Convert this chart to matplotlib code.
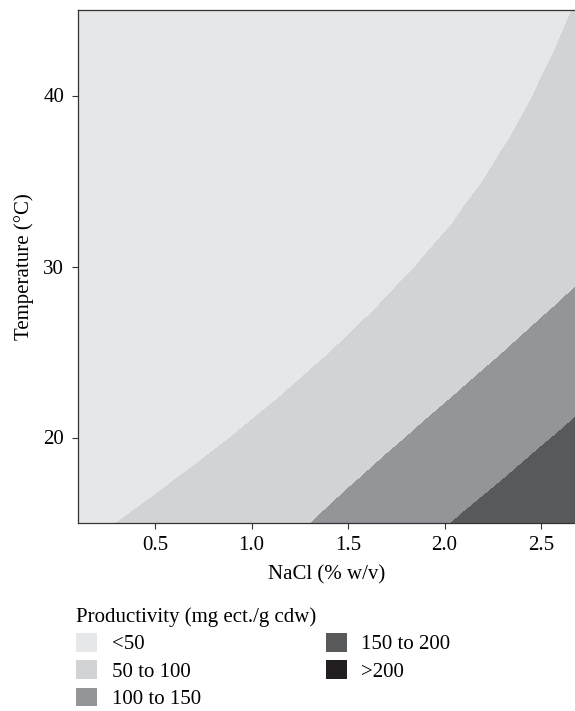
import numpy as np
import matplotlib
matplotlib.use('Agg')
import matplotlib.pyplot as plt
from matplotlib.patches import Patch

# grid of the response surface
nacl = [0.1, 0.3, 0.5, 0.7, 0.9, 1.1, 1.3, 1.5, 1.7, 1.9, 2.1, 2.3, 2.5, 2.7]
temperature = [15, 17.5, 20, 22.5, 25, 27.5, 30, 32.5, 35, 37.5, 40, 42.5, 45]
productivity = [
    [40.1, 50.0, 59.9, 69.8, 79.7, 89.6, 99.5, 113.0, 126.7, 140.4, 154.7, 170.3, 185.9, 201.7],
    [24.0, 34.4, 44.8, 55.2, 65.6, 76.1, 86.5, 96.9, 109.5, 123.0, 136.5, 150.0, 165.6, 181.2],
    [7.1, 18.0, 28.8, 39.7, 50.5, 61.4, 72.3, 83.1, 94.0, 106.0, 119.2, 132.4, 145.7, 160.5],
    [0.0, 2.2, 13.3, 24.4, 35.5, 46.7, 57.8, 68.9, 80.0, 91.1, 102.6, 115.6, 128.6, 141.5],
    [0.0, 0.0, 0.0, 10.5, 21.6, 32.8, 43.9, 55.0, 66.1, 77.2, 88.4, 99.5, 112.2, 125.0],
    [0.0, 0.0, 0.0, 0.0, 9.8, 20.7, 31.5, 42.4, 53.3, 64.1, 75.0, 85.8, 96.7, 108.9],
    [0.0, 0.0, 0.0, 0.0, 0.5, 10.9, 21.3, 31.8, 42.2, 52.6, 63.0, 73.4, 83.9, 94.3],
    [0.0, 0.0, 0.0, 0.0, 0.0, 3.9, 13.7, 23.5, 33.3, 43.1, 52.9, 62.7, 72.5, 82.3],
    [0.0, 0.0, 0.0, 0.0, 0.0, 0.5, 9.5, 18.5, 27.5, 36.5, 45.5, 54.5, 63.5, 72.5],
    [0.0, 0.0, 0.0, 0.0, 0.0, 0.0, 7.4, 15.6, 23.8, 32.0, 40.2, 48.4, 56.6, 64.8],
    [0.0, 0.0, 0.0, 0.0, 0.0, 0.0, 7.1, 14.5, 21.9, 29.3, 36.7, 44.1, 51.5, 58.9],
    [0.0, 0.0, 0.0, 0.0, 0.0, 1.1, 7.7, 14.4, 21.1, 27.8, 34.5, 41.1, 47.8, 54.5],
    [0.0, 0.0, 0.0, 0.0, 0.0, 2.7, 8.8, 14.9, 20.9, 27.0, 33.0, 39.1, 45.2, 51.2],
]
levels = [-1, 50, 100, 150, 200, 300]
band_labels = ['<50', '50 to 100', '100 to 150', '150 to 200', '>200']
band_colors = ['#e6e7e8', '#d1d3d4', '#939598', '#58595b', '#231f20']
x_ticks = [0.5, 1.0, 1.5, 2.0, 2.5]
y_ticks = [20, 30, 40]

plt.rcParams['font.family'] = ['Liberation Serif', 'DejaVu Serif']
plt.rcParams['font.size'] = 15

fig = plt.figure(figsize=(5.75, 7.11), dpi=100)
ax = fig.add_axes([78 / 575, 188 / 711, 497 / 575, 513 / 711])

ax.contourf(np.array(nacl), np.array(temperature), np.array(productivity),
            levels=levels, colors=band_colors)
ax.set_xlim(0.1, 2.676)
ax.set_ylim(15, 45)

ax.set_xticks(x_ticks)
ax.set_xticklabels(['%.1f' % v for v in x_ticks])
ax.set_yticks(y_ticks)
ax.tick_params(direction='out', length=4, width=0.8, color='#333333')
ax.tick_params(axis='x', pad=5)
ax.tick_params(axis='y', pad=6)
for side in ['top', 'left', 'bottom']:
    ax.spines[side].set_color('#333333')
    ax.spines[side].set_linewidth(0.9)
ax.spines['right'].set_visible(False)

ax.set_xlabel('NaCl (% w/v)')
ax.xaxis.set_label_coords(0.5, -0.083)
ax.set_ylabel('Temperature (\u00b0C)')
ax.yaxis.set_label_coords(-0.088, 0.5)

handles = [Patch(facecolor=c, edgecolor='none', label=l) for c, l in zip(band_colors, band_labels)]
fig.legend(handles=handles, title='Productivity (mg ect./g cdw)', ncol=2,
           loc='upper left', bbox_to_anchor=(66 / 575, 1 - 597 / 711),
           frameon=False, borderpad=0, handlelength=1.0, handleheight=1.0,
           handletextpad=0.7, columnspacing=6.0, labelspacing=0.28,
           alignment='left', title_fontsize=15, fontsize=15)

fig.savefig('out.png', dpi=100)
